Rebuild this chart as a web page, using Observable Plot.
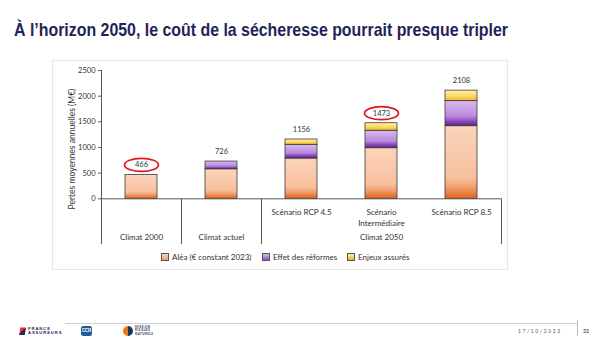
<!DOCTYPE html>
<html>
<head>
<meta charset="utf-8">
<script src="https://cdn.jsdelivr.net/npm/d3@7"></script>
<script src="https://cdn.jsdelivr.net/npm/@observablehq/plot@0.6"></script>
<style>
  html, body { margin: 0; padding: 0; background: #fff; }
  #wrap { position: relative; width: 610px; height: 343px; overflow: hidden; font-family: Lato, "Noto Sans", sans-serif; color: #333; }
  #title { position: absolute; left: 14px; top: 20px; font-family: "Liberation Sans", Arial, sans-serif; font-weight: bold; font-size: 19px; color: #1f2557; white-space: nowrap; transform-origin: 0 0; line-height: 1; }
  #panel { position: absolute; left: 52px; top: 60px; width: 456px; height: 210px; border: 1px solid #e6e6e6; box-sizing: border-box; }
  #chart { position: absolute; left: 0; top: 0; }
  #ylabel { position: absolute; left: 72px; top: 149px; transform: translate(-50%, -50%) rotate(-90deg); font-size: 8.5px; white-space: nowrap; color: #333; }
  .leg { position: absolute; top: 252px; font-size: 8px; white-space: nowrap; color: #333; display: flex; align-items: center; }
  .sw { display: inline-block; width: 6px; height: 6px; border: 0.8px solid #555; margin-right: 3px; }
  #footline { position: absolute; left: 65px; top: 323px; width: 512px; height: 0; border-top: 1px solid #cfcfcf; }
  #date { position: absolute; left: 518px; top: 328px; font-size: 5px; letter-spacing: 1.6px; color: #555; }
  #sep { position: absolute; left: 577px; top: 320px; width: 0; height: 16px; border-left: 1px solid #bbb; }
  #page { position: absolute; left: 583px; top: 328px; font-size: 5px; color: #555; font-weight: bold; }
  #fa { position: absolute; left: 19px; top: 327px; display: flex; align-items: center; }
  #fa .ic { width: 7px; height: 8px; background: linear-gradient(135deg, #e3262e 0 50%, #1f2557 50% 100%); margin-right: 2px; clip-path: polygon(20% 0, 100% 0, 80% 100%, 0 100%); }
  #fa .tx { font-family: "Liberation Sans", Arial, sans-serif; font-weight: bold; font-size: 4.2px; line-height: 4.4px; color: #1f2557; letter-spacing: 0.9px; }
  #ccr { position: absolute; left: 81px; top: 326px; width: 11px; height: 10px; background: #1d5c96; border-radius: 2.5px; color: #fff; font-family: "Liberation Sans", Arial, sans-serif; font-weight: bold; font-size: 4.5px; line-height: 10px; text-align: center; }
  #mrn { position: absolute; left: 123px; top: 326px; display: flex; align-items: center; }
  #mrn .c { width: 10px; height: 10px; border-radius: 50%; background: linear-gradient(90deg, #e8781e 0 50%, #1f3556 50% 100%); margin-right: 2px; }
  #mrn .tx { font-size: 3px; line-height: 3.3px; color: #1f3556; letter-spacing: 0.4px; font-weight: bold; }
</style>
</head>
<body>
<div id="wrap">
  <div id="panel"></div>
  <div id="chart"></div>
  <div id="title">À l’horizon 2050, le coût de la sécheresse pourrait presque tripler</div>
  <div id="ylabel">Pertes moyennes annuelles (M€)</div>
  <div id="legend"></div>
  <div id="footline"></div>
  <div id="fa"><div class="ic"></div><div class="tx">FRANCE<br>ASSUREURS</div></div>
  <div id="ccr">CCR</div>
  <div id="mrn"><div class="c"></div><div class="tx">MISSION<br>RISQUES<br>NATURELS</div></div>
  <div id="date">17/10/2023</div>
  <div id="sep"></div>
  <div id="page">32</div>
</div>
<script>
// ---------- data ----------
const categories = ["Climat 2000", "Climat actuel", "Scénario RCP 4.5", "Scénario Intermédiaire", "Scénario RCP 8.5"];
const alea      = [466, 575, 785, 986, 1415];
const reformes  = [0, 151, 267, 340, 488];
const enjeux    = [0, 0, 104, 147, 205];
const totals    = [466, 726, 1156, 1473, 2108];
const seriesNames = ["Aléa (€ constant 2023)", "Effet des réformes", "Enjeux assurés"];
const scenarioLabels = ["", "", "Scénario RCP 4.5", "Scénario\nIntermédiaire", "Scénario RCP 8.5"];
const groupLabels = ["Climat 2000", "Climat actuel", "Climat 2050"];
const groupCategory = ["Climat 2000", "Climat actuel", "Scénario Intermédiaire"];
const circled = ["Climat 2000", "Scénario Intermédiaire"];
const yTicks = [0, 500, 1000, 1500, 2000, 2500];

// ---------- styles ----------
const gradients = [
  {id: "g-alea", stops: [[0, "#fbd4ba"], [0.72, "#f7c09e"], [0.84, "#f1a16f"], [1, "#e0641c"]]},
  {id: "g-ref",  stops: [[0, "#dcb8f0"], [0.62, "#b98ade"], [0.8, "#9050c0"], [1, "#5e1f8a"]]},
  {id: "g-enj",  stops: [[0, "#fff1a8"], [0.55, "#ffd964"], [1, "#e9b324"]]}
];
const seriesFills = gradients.map(g => `url(#${g.id})`);
const legendCss = [
  "linear-gradient(#fbd4ba, #f1a16f)",
  "linear-gradient(#dcb8f0, #9050c0)",
  "linear-gradient(#fff1a8, #e9b324)"
];
const legendLeft = [161, 262, 347];

const rows = [];
categories.forEach((c, i) => {
  [alea, reformes, enjeux].forEach((arr, k) => {
    if (arr[i] > 0) rows.push({cat: c, series: k, value: arr[i]});
  });
});

const W = 610, H = 343, mL = 101, mR = 109, mT = 70, mB = 99;
const yMin = -890, yMax = 2500;
const step = (W - mL - mR) / categories.length;
const axisColor = "#5a5a5a";

const ellipse = {
  draw(ctx) {
    const rx = 17, ry = 6.5, k = 0.5523;
    ctx.moveTo(rx, 0);
    ctx.bezierCurveTo(rx, ry * k, rx * k, ry, 0, ry);
    ctx.bezierCurveTo(-rx * k, ry, -rx, ry * k, -rx, 0);
    ctx.bezierCurveTo(-rx, -ry * k, -rx * k, -ry, 0, -ry);
    ctx.bezierCurveTo(rx * k, -ry, rx, -ry * k, rx, 0);
    ctx.closePath();
  }
};

const totalsData = categories.map((c, i) => ({cat: c, total: totals[i]}));

const plot = Plot.plot({
  width: W, height: H,
  marginLeft: mL, marginRight: mR, marginTop: mT, marginBottom: mB,
  style: {background: "transparent", fontFamily: "Lato, 'Noto Sans', sans-serif", color: "#333", overflow: "visible"},
  x: {domain: categories, padding: 0, axis: null},
  y: {domain: [yMin, yMax], axis: null},
  color: {type: "identity"},
  marks: [
    Plot.barY(rows, {x: "cat", y: "value", z: "series", fill: d => seriesFills[d.series], insetLeft: 24, insetRight: 24, stroke: "#3a3a3a", strokeWidth: 0.8}),
    Plot.axisY({ticks: yTicks, tickSize: 3, tickPadding: 3, fontSize: 7.5, stroke: axisColor, tickFormat: d => String(d), label: null}),
    Plot.ruleY([0], {stroke: axisColor, strokeWidth: 1}),
    Plot.ruleX([categories[0]], {y1: yMin, y2: yMax, dx: -step / 2, stroke: axisColor, strokeWidth: 1}),
    Plot.ruleX([categories[1], categories[2]], {y1: yMin, y2: 0, dx: -step / 2, stroke: axisColor, strokeWidth: 1}),
    Plot.ruleX([categories[categories.length - 1]], {y1: yMin, y2: 0, dx: step / 2, stroke: axisColor, strokeWidth: 1}),
    Plot.text(categories.map((c, i) => ({cat: c, label: scenarioLabels[i]})).filter(d => d.label),
      {x: "cat", y: 0, text: "label", dy: 9, lineAnchor: "top", lineHeight: 1.35, fontSize: 8, fill: "#333"}),
    Plot.text(groupLabels.map((g, i) => ({cat: groupCategory[i], label: g})),
      {x: "cat", y: yMin, text: "label", dy: -5, lineAnchor: "bottom", fontSize: 8, fill: "#333"}),
    Plot.text(totalsData, {x: "cat", y: "total", text: d => String(d.total), dy: -10, fontSize: 7.5, fill: "#333"}),
    Plot.dot(totalsData.filter(d => circled.includes(d.cat)),
      {x: "cat", y: "total", dy: -10, symbol: ellipse, r: 5, fill: "none", stroke: "#e0161b", strokeWidth: 1.7})
  ]
});

// gradient definitions
const defs = d3.select(plot).insert("defs", ":first-child");
gradients.forEach(g => {
  const lg = defs.append("linearGradient").attr("id", g.id).attr("x1", 0).attr("y1", 0).attr("x2", 0).attr("y2", 1);
  g.stops.forEach(([o, c]) => lg.append("stop").attr("offset", o).attr("stop-color", c));
});
document.getElementById("chart").appendChild(plot);

// legend
const legend = document.getElementById("legend");
seriesNames.forEach((n, i) => {
  const el = document.createElement("div");
  el.className = "leg";
  el.style.left = legendLeft[i] + "px";
  el.innerHTML = `<span class="sw" style="background:${legendCss[i]}"></span>${n}`;
  legend.appendChild(el);
});

// fit title width
const t = document.getElementById("title");
const w = t.getBoundingClientRect().width;
t.style.transform = `scaleX(${494 / w})`;
</script>
</body>
</html>
